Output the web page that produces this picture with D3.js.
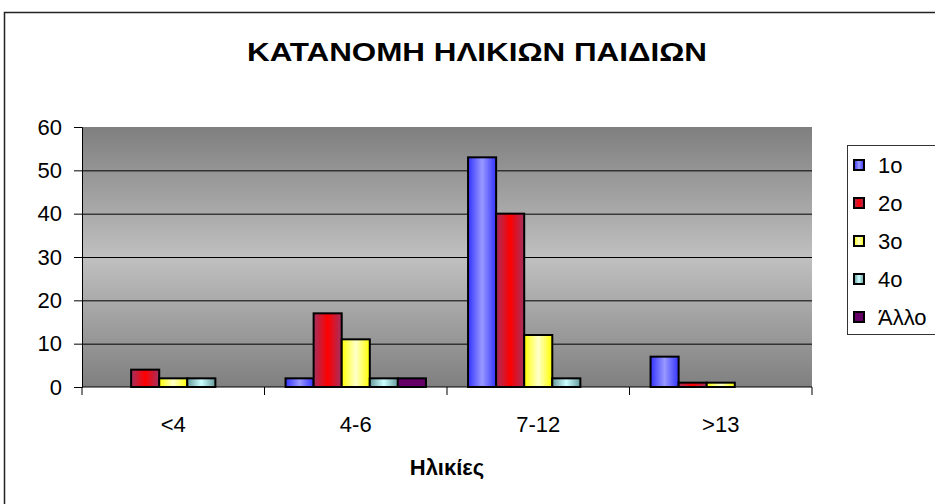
<!DOCTYPE html>
<html>
<head>
<meta charset="utf-8">
<script src="https://cdn.jsdelivr.net/npm/d3@7"></script>
<style>
  body { margin: 0; background: #fff; }
  svg { display: block; font-family: "Liberation Sans", Arial, sans-serif; }
</style>
</head>
<body>
<svg id="chart" width="935" height="504"></svg>
<script>
// data
const Categories = ["<4", "4-6", "7-12", ">13"];
const Series = ["1o", "2o", "3o", "4o", "Άλλο"];
const Values = [
  [0, 2, 53, 7],   // 1o
  [4, 17, 40, 1],  // 2o
  [2, 11, 12, 1],  // 3o
  [2, 2, 2, 0],    // 4o
  [0, 2, 0, 0]     // Άλλο
];
const YTicks = [0, 10, 20, 30, 40, 50, 60];
const Title = "ΚΑΤΑΝΟΜΗ ΗΛΙΚΙΩΝ ΠΑΙΔΙΩΝ";
const XTitle = "Ηλικίες";

// edge colour, centre colour for each series gradient
const Fills = [
  ["#3333ff", "#9999ff"],
  ["#a33060", "#ff0000"],
  ["#ffff00", "#ffffcc"],
  ["#669999", "#ccffff"],
  ["#660066", "#660066"]
];

const W = 935, H = 504;
const Margin = [127, H - 387, W - 812, 82]; // top bottom right left

const SVG = d3.select("#chart");
const defs = SVG.append("defs");

const bg = defs.append("linearGradient").attr("id", "bg")
  .attr("x1", 0).attr("y1", 0).attr("x2", 0).attr("y2", 1);
bg.append("stop").attr("offset", "0%").attr("stop-color", "#7f7f7f");
bg.append("stop").attr("offset", "50%").attr("stop-color", "#c0c0c0");
bg.append("stop").attr("offset", "100%").attr("stop-color", "#7f7f7f");

Fills.forEach((f, i) => {
  const g = defs.append("linearGradient").attr("id", "fill" + i)
    .attr("x1", 0).attr("y1", 0).attr("x2", 1).attr("y2", 0);
  g.append("stop").attr("offset", "0%").attr("stop-color", f[0]);
  g.append("stop").attr("offset", "50%").attr("stop-color", f[1]);
  g.append("stop").attr("offset", "100%").attr("stop-color", f[0]);
});

// outer frame
SVG.append("rect")
  .attr("x", 4.5).attr("y", 12.5)
  .attr("width", W + 10).attr("height", H + 10)
  .attr("fill", "#fff")
  .attr("stroke", "#222").attr("stroke-width", 1.5);

const X = d3.scaleBand()
  .domain(Categories)
  .range([Margin[3], W - Margin[2]]);
const XS = d3.scaleBand()
  .domain(Series)
  .range([0, X.bandwidth()])
  .paddingInner(0)
  .paddingOuter(0.75);
const Y = d3.scaleLinear()
  .domain([0, 60])
  .range([H - Margin[1], Margin[0]]);

// plot area
SVG.append("rect")
  .attr("x", Margin[3]).attr("y", Margin[0])
  .attr("width", W - Margin[2] - Margin[3])
  .attr("height", H - Margin[1] - Margin[0])
  .attr("fill", "url(#bg)");

// gridlines
SVG.append("g")
  .selectAll("line")
  .data(YTicks.filter(d => d > 0 && d < 60))
  .join("line")
  .attr("x1", Margin[3]).attr("x2", W - Margin[2])
  .attr("y1", d => Y(d) + 0.5).attr("y2", d => Y(d) + 0.5)
  .attr("stroke", "#000").attr("stroke-width", 1);

// bars
const rows = [];
Series.forEach((s, si) => Categories.forEach((c, ci) => {
  if (Values[si][ci] > 0) rows.push({ s, si, c, v: Values[si][ci] });
}));
SVG.append("g")
  .selectAll("rect")
  .data(rows)
  .join("rect")
  .attr("x", d => X(d.c) + XS(d.s))
  .attr("y", d => Y(d.v))
  .attr("width", XS.bandwidth())
  .attr("height", d => Y(0) - Y(d.v))
  .attr("fill", d => `url(#fill${d.si})`)
  .attr("stroke", "#000").attr("stroke-width", 2);

// y axis
const Ygroup = SVG.append("g")
  .attr("transform", `translate(${Margin[3]},0)`)
  .call(d3.axisLeft(Y).tickValues(YTicks).tickSize(8).tickPadding(12));
Ygroup.selectAll("text").style("font-size", "22px").attr("fill", "#000");
Ygroup.selectAll("line, path").attr("stroke", "#000");

// x axis, ticks on category edges
const Xgroup = SVG.append("g")
  .attr("transform", `translate(0,${H - Margin[1]})`);
Xgroup.append("line")
  .attr("x1", Margin[3]).attr("x2", W - Margin[2])
  .attr("stroke", "#000");
Xgroup.selectAll(".edge")
  .data(Categories.concat(["end"]))
  .join("line")
  .attr("class", "edge")
  .attr("x1", (d, i) => Margin[3] + i * X.bandwidth())
  .attr("x2", (d, i) => Margin[3] + i * X.bandwidth())
  .attr("y1", 0).attr("y2", 8)
  .attr("stroke", "#000");
Xgroup.selectAll("text")
  .data(Categories)
  .join("text")
  .attr("x", d => X(d) + X.bandwidth() / 2)
  .attr("y", 45)
  .attr("text-anchor", "middle")
  .style("font-size", "22px")
  .text(d => d);

// titles
SVG.append("text")
  .attr("x", 477).attr("y", 61)
  .attr("text-anchor", "middle")
  .attr("textLength", 460)
  .attr("lengthAdjust", "spacingAndGlyphs")
  .style("font-size", "25px").style("font-weight", "bold")
  .text(Title);
SVG.append("text")
  .attr("x", X("4-6") + X.bandwidth())
  .attr("y", 475)
  .attr("text-anchor", "middle")
  .style("font-size", "22px").style("font-weight", "bold")
  .text(XTitle);

// legend
const legend = SVG.append("g");
legend.append("rect")
  .attr("x", 847.5).attr("y", 145.5)
  .attr("width", 120).attr("height", 189)
  .attr("fill", "#fff")
  .attr("stroke", "#333").attr("stroke-width", 1);
const item = legend.selectAll(".item")
  .data(Series)
  .join("g")
  .attr("class", "item")
  .attr("transform", (d, i) => `translate(0,${165 + i * 38})`);
item.append("rect")
  .attr("x", 854).attr("y", -5)
  .attr("width", 10).attr("height", 10)
  .attr("fill", (d, i) => `url(#fill${i})`)
  .attr("stroke", "#000").attr("stroke-width", 2);
item.append("text")
  .attr("x", 878).attr("y", 0)
  .attr("dy", "0.35em")
  .style("font-size", "22px")
  .text(d => d);
</script>
</body>
</html>
